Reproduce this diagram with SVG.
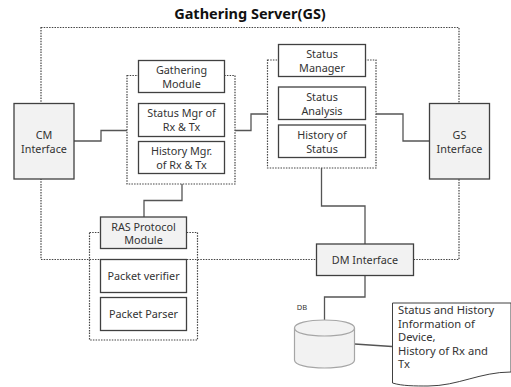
<svg xmlns="http://www.w3.org/2000/svg" width="511" height="387" viewBox="0 0 511 387">
<style>
text{font-family:"Noto Sans","Open Sans","Liberation Sans",sans-serif;font-size:10.8px;fill:#333;text-anchor:middle}
.title{font-size:14.5px;font-weight:bold;fill:#111}
.note{font-size:11.2px;text-anchor:start}
.box{fill:#fff;stroke:#404040;stroke-width:1.3}
.grey{fill:#f2f2f2;stroke:#404040;stroke-width:1.3}
.dot{fill:none;stroke:#444;stroke-width:1.2;stroke-dasharray:1.5 1.2}
.line{fill:none;stroke:#555;stroke-width:1.3}
.db{fill:#f2f2f2;stroke:#a6a6a6;stroke-width:1.2}
</style>
<rect width="511" height="387" fill="#fff"/>
<text class="title" x="250" y="19">Gathering Server(GS)</text>
<g id="gathering-server-boundary"><rect class="dot" x="41" y="27.5" width="418" height="232"/></g>
<g id="gathering-group"><rect class="dot" x="127" y="75.5" width="108" height="108.500"/></g>
<g id="status-group"><rect class="dot" x="267.500" y="60" width="108.500" height="108"/></g>
<g id="ras-group"><rect class="dot" x="89.500" y="232.500" width="108" height="107.500"/></g>
<g id="connectors">
<path class="line" d="M74 141H101V130.500H127"/>
<path class="line" d="M235 130.500H251V114H267.500"/>
<path class="line" d="M376 114H403V141H430"/>
<path class="line" d="M182 184V200.500H144V217"/>
<path class="line" d="M321.500 168V206H365V244"/>
<path class="line" d="M365 275V297H324.500V320"/>
<path class="line" d="M354.500 344L392 346.500"/>
</g>
<g id="cm-interface"><rect class="grey" x="14" y="103.500" width="60" height="75.500"/><text x="44" y="139">CM</text><text x="44" y="152.500">Interface</text></g>
<g id="gs-interface"><rect class="grey" x="429.500" y="103.500" width="60" height="75.500"/><text x="459.500" y="139">GS</text><text x="459.500" y="152.500">Interface</text></g>
<g id="gathering-module"><rect class="box" x="138.500" y="60.500" width="86" height="32"/><text x="181.500" y="74">Gathering</text><text x="181.500" y="87.500">Module</text></g>
<g id="status-mgr"><rect class="box" x="138.500" y="103.500" width="86" height="33"/><text x="181.500" y="117">Status Mgr of</text><text x="181.500" y="131">Rx &amp; Tx</text></g>
<g id="history-mgr"><rect class="box" x="138.500" y="141.500" width="86" height="32"/><text x="181.500" y="155">History Mgr.</text><text x="181.500" y="169">of Rx &amp; Tx</text></g>
<g id="status-manager"><rect class="box" x="278.500" y="44.500" width="87" height="32"/><text x="322" y="58">Status</text><text x="322" y="72">Manager</text></g>
<g id="status-analysis"><rect class="box" x="278.500" y="87" width="87" height="32.500"/><text x="322" y="101">Status</text><text x="322" y="115">Analysis</text></g>
<g id="history-status"><rect class="box" x="278.500" y="125" width="87" height="32.500"/><text x="322" y="139">History of</text><text x="322" y="153">Status</text></g>
<g id="ras-module"><rect class="grey" x="100.500" y="217" width="86" height="31.500"/><text x="143.500" y="230.500">RAS Protocol</text><text x="143.500" y="244">Module</text></g>
<g id="packet-verifier"><rect class="box" x="100.500" y="259.500" width="86" height="33"/><text x="143.500" y="280">Packet verifier</text></g>
<g id="packet-parser"><rect class="box" x="100.500" y="297.500" width="86" height="33"/><text x="143.500" y="318">Packet Parser</text></g>
<g id="dm-interface"><rect class="grey" x="316.500" y="244" width="97" height="31.500"/><text x="365" y="263.500">DM Interface</text></g>
<g id="db"><path class="db" d="M294.500 328C294.500 323 308 320 324.500 320S354.500 323 354.500 328V360C354.500 365 341 368 324.500 368S294.500 365 294.500 360Z"/><path class="db" d="M294.500 328C294.500 333 308 336 324.500 336S354.500 333 354.500 328"/><text x="302" y="310" style="font-size:7.5px">DB</text></g>
<g id="document"><path d="M392.500 303H511V372C480 372 458 386 428 386C415 386 402 386 392.500 383Z" fill="#fff" stroke="#404040" stroke-width="1"/>
<text class="note" x="398" y="314">Status and History</text><text class="note" x="398" y="327.500">Information of</text><text class="note" x="398" y="341">Device,</text><text class="note" x="398" y="354.500">History of Rx and</text><text class="note" x="398" y="368">Tx</text></g>
</svg>
